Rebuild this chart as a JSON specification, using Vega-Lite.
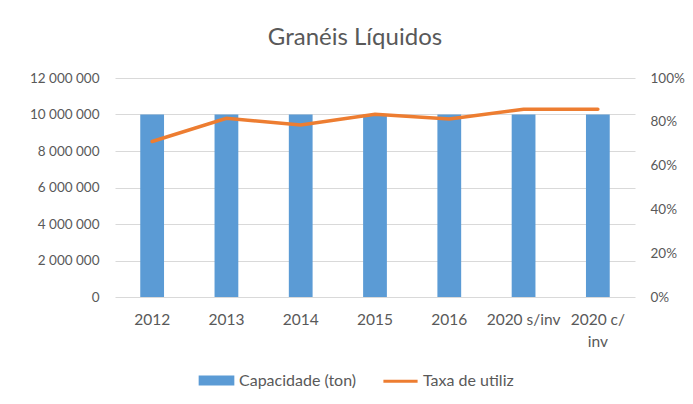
{
  "$schema": "https://vega.github.io/schema/vega-lite/v6.json",
  "width": 520,
  "height": 219,
  "autosize": {"type": "none"},
  "padding": {"left": 115, "top": 78, "right": 58, "bottom": 107},
  "background": "white",
  "config": {
    "locale": {"number": {"decimal": ",", "thousands": " ", "grouping": [3], "currency": ["", ""]}},
    "view": {"stroke": null},
    "font": "Lato",
    "axis": {"labelFont": "Lato", "labelFontSize": 13.5, "labelColor": "#595959", "domain": false, "ticks": false, "title": null}
  },
  "title": {"text": "Granéis Líquidos", "font": "Lato", "fontSize": 24, "fontWeight": "normal", "color": "#595959", "offset": 21, "dx": -20},
  "data": {"values": [
    {"ano": "2012", "capacidade": 10000000, "taxa": 0.71},
    {"ano": "2013", "capacidade": 10000000, "taxa": 0.816},
    {"ano": "2014", "capacidade": 10000000, "taxa": 0.785},
    {"ano": "2015", "capacidade": 10000000, "taxa": 0.834},
    {"ano": "2016", "capacidade": 10000000, "taxa": 0.813},
    {"ano": "2020 s/inv", "capacidade": 10000000, "taxa": 0.857},
    {"ano": "2020 c/inv", "capacidade": 10000000, "taxa": 0.857}
  ]},
  "encoding": {
    "x": {"field": "ano", "type": "nominal", "sort": null,
      "scale": {"paddingInner": 0.68, "paddingOuter": 0.34},
      "axis": {"labelAngle": 0, "labelPadding": 15, "labelLineHeight": 22, "labelFontSize": 15.5,
        "labelExpr": "datum.label == '2020 c/inv' ? ['2020 c/', 'inv'] : datum.label"}}
  },
  "layer": [
    {
      "mark": {"type": "bar"},
      "encoding": {
        "y": {"field": "capacidade", "type": "quantitative",
          "scale": {"domain": [0, 12000000], "nice": false},
          "axis": {"values": [0, 2000000, 4000000, 6000000, 8000000, 10000000, 12000000], "format": ",d", "labelPadding": 16, "gridColor": "#D9D9D9"}},
        "color": {"datum": "Capacidade (ton)", "type": "nominal",
          "scale": {"domain": ["Capacidade (ton)", "Taxa de utiliz"], "range": ["#5B9BD5", "#ED7D31"]},
          "legend": {"orient": "none", "legendX": 81, "legendY": 282, "direction": "horizontal", "title": null,
            "labelFont": "Lato", "labelFontSize": 16, "labelColor": "#595959",
            "symbolSize": 1444, "columnPadding": 20, "labelOffset": 2,
            "encode": {"symbols": {"update": {
              "shape": {"signal": "datum.value == 'Capacidade (ton)' ? 'M-0.86,-0.18H0.86V0.18H-0.86Z' : 'M-0.9,0H0.9'"},
              "fill": {"signal": "datum.value == 'Capacidade (ton)' ? '#5B9BD5' : 'transparent'"},
              "stroke": {"signal": "datum.value == 'Capacidade (ton)' ? 'transparent' : '#ED7D31'"},
              "strokeWidth": {"value": 3},
              "opacity": {"value": 1}
            }}}}
        }
      }
    },
    {
      "mark": {"type": "line", "strokeWidth": 3.5, "strokeCap": "round"},
      "encoding": {
        "y": {"field": "taxa", "type": "quantitative",
          "scale": {"domain": [0, 1], "nice": false},
          "axis": {"orient": "right", "values": [0, 0.2, 0.4, 0.6, 0.8, 1], "format": ".0%", "labelPadding": 15, "grid": false}},
        "color": {"datum": "Taxa de utiliz", "type": "nominal"}
      }
    }
  ],
  "resolve": {"scale": {"y": "independent"}}
}
